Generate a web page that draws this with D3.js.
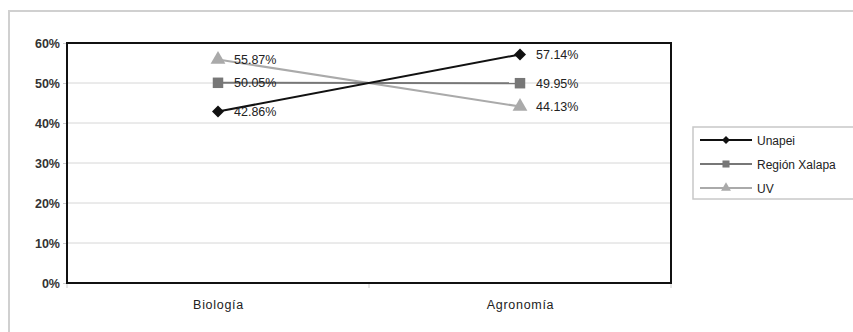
<!DOCTYPE html>
<html>
<head>
<meta charset="utf-8">
<script src="https://cdn.jsdelivr.net/npm/d3@7"></script>
<style>
  html, body { margin: 0; padding: 0; background: #fff; }
  svg { display: block; font-family: "Liberation Sans", Arial, sans-serif; }
</style>
</head>
<body>
<svg id="chart" width="853" height="332"></svg>
<script>
// Categories and series
const categories = ["Biología", "Agronomía"];
const seriesNames = ["Unapei", "Región Xalapa", "UV"];
const unapei = [42.86, 57.14];
const regionXalapa = [50.05, 49.95];
const uv = [55.87, 44.13];
const yTicks = [0, 10, 20, 30, 40, 50, 60];

// Markers: a square turned 45° gives the wide diamond
const series = [
  { name: seriesNames[0], values: unapei, color: "#111", symbol: d3.symbolSquare, size: 72, rotate: 45 },
  { name: seriesNames[1], values: regionXalapa, color: "#777", symbol: d3.symbolSquare, size: 110, rotate: 0 },
  { name: seriesNames[2], values: uv, color: "#aaa", symbol: d3.symbolTriangle, size: 95, rotate: 0 }
];

const svg = d3.select("#chart");
const plot = { left: 67, right: 671, top: 43, bottom: 283 };

// Outer chart frame
svg.append("rect")
  .attr("x", 9).attr("y", 11).attr("width", 860).attr("height", 340)
  .attr("fill", "#fff").attr("stroke", "#d0d0d0").attr("stroke-width", 2);

const x = d3.scalePoint().domain(categories).range([plot.left, plot.right]).padding(0.5);
const y = d3.scaleLinear().domain([0, 60]).range([plot.bottom, plot.top]);

// Horizontal gridlines
svg.append("g").selectAll("line").data(yTicks.filter(t => t > 0 && t < 60)).join("line")
  .attr("x1", plot.left).attr("x2", plot.right)
  .attr("y1", d => y(d)).attr("y2", d => y(d))
  .attr("stroke", "#d6d6d6").attr("stroke-width", 1);

// Y axis labels
const yAxis = d3.axisLeft(y).tickValues(yTicks).tickFormat(d => d + "%").tickSize(4).tickPadding(3);
const gy = svg.append("g").attr("transform", `translate(${plot.left},0)`).call(yAxis);
gy.select(".domain").remove();
gy.selectAll(".tick line").attr("stroke", "#ccc");
gy.selectAll("text").attr("font-size", 12.5).attr("font-weight", "bold").attr("fill", "#333");

// X axis: category labels with separators at the category edges
const gx = svg.append("g").attr("transform", `translate(0,${plot.bottom})`)
  .call(d3.axisBottom(x).tickSize(0).tickPadding(17));
gx.select(".domain").remove();
gx.selectAll("text").attr("font-size", 12.5).attr("fill", "#222").attr("letter-spacing", "0.7px");
const step = x.step();
svg.append("g").selectAll("line")
  .data([plot.left, plot.left + step, plot.right]).join("line")
  .attr("x1", d => d).attr("x2", d => d)
  .attr("y1", plot.bottom).attr("y2", plot.bottom + 5)
  .attr("stroke", "#ccc");

// Plot area border
svg.append("rect")
  .attr("x", plot.left).attr("y", plot.top)
  .attr("width", plot.right - plot.left).attr("height", plot.bottom - plot.top)
  .attr("fill", "none").attr("stroke", "#111").attr("stroke-width", 2);

// Series lines, markers and value labels (drawn so darker series sit on top)
const line = d3.line().x((d, i) => x(categories[i])).y(d => y(d));
[...series].reverse().forEach(s => {
  const g = svg.append("g");
  g.append("path").datum(s.values).attr("d", line)
    .attr("fill", "none").attr("stroke", s.color).attr("stroke-width", 2);
  g.selectAll("path.m").data(s.values).join("path").attr("class", "m")
    .attr("transform", (d, i) => `translate(${x(categories[i])},${y(d)}) rotate(${s.rotate})`)
    .attr("d", d3.symbol().type(s.symbol).size(s.size))
    .attr("fill", s.color);
  g.selectAll("text").data(s.values).join("text")
    .attr("x", (d, i) => x(categories[i]) + 16)
    .attr("y", d => y(d) + 4.5)
    .attr("font-size", 12.5).attr("fill", "#222")
    .text(d => d.toFixed(2) + "%");
});

// Legend
const leg = svg.append("g");
leg.append("rect").attr("x", 693).attr("y", 127).attr("width", 170).attr("height", 72)
  .attr("fill", "#fff").attr("stroke", "#c8c8c8").attr("stroke-width", 1.5);
series.forEach((s, i) => {
  const ly = 140 + i * 24;
  leg.append("line").attr("x1", 700).attr("x2", 752).attr("y1", ly).attr("y2", ly)
    .attr("stroke", s.color).attr("stroke-width", 2);
  leg.append("path").attr("transform", `translate(726,${ly}) rotate(${s.rotate})`)
    .attr("d", d3.symbol().type(s.symbol).size(s.size * 0.45)).attr("fill", s.color);
  leg.append("text").attr("x", 757).attr("y", ly + 4.5)
    .attr("font-size", 12).attr("fill", "#222").text(s.name);
});
</script>
</body>
</html>
